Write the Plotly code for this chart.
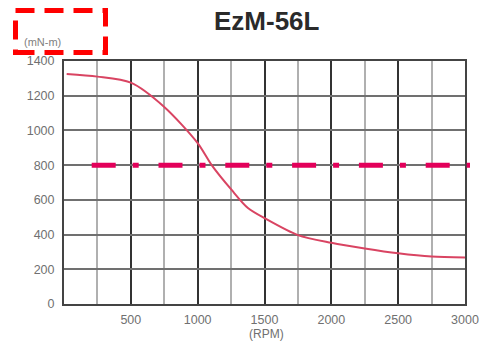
import plotly.graph_objects as go

# Data
rpm = [20, 250, 500, 750, 1000, 1105, 1254, 1376, 1511, 1750, 2000, 2250, 2500, 2750, 3000]
torque = [1325, 1310, 1275, 1135, 927, 800, 657, 553, 490, 397, 353, 320, 292, 273, 268]
threshold = 800
x_ticks = [500, 1000, 1500, 2000, 2500, 3000]
y_ticks = [0, 200, 400, 600, 800, 1000, 1200, 1400]
title_text = "EzM-56L"
y_unit = "(mN-m)"
x_unit = "(RPM)"

W, H = 483, 341
L, R, T, B = 64, 18, 61, 37
pw, ph = W - L - R, H - T - B

def px(x):
    return (x - L) / pw

def py(y):
    return (H - B - y) / ph

fig = go.Figure()

fig.add_trace(go.Scatter(
    x=rpm, y=torque, mode="lines",
    line=dict(color="#d94462", width=2, shape="spline", smoothing=0.8),
    hoverinfo="skip", showlegend=False,
))

# threshold dashed line
fig.add_shape(type="line", xref="paper", yref="y",
              x0=px(91.7), x1=px(470), y0=threshold, y1=threshold,
              line=dict(color="#e3005a", width=5, dash="24px,17px,6px,19.8px"),
              layer="above")

# red dashed box around unit label
fig.add_shape(type="rect", xref="paper", yref="paper",
              x0=px(15.5), x1=px(105.5), y0=py(52.5), y1=py(10.5),
              line=dict(color="#ff0000", width=5, dash="19px,10px"))

fig.add_annotation(text=y_unit, xref="paper", yref="paper",
                   x=px(42), y=py(42), xanchor="center", yanchor="middle",
                   showarrow=False,
                   font=dict(size=11, color="#808080", family="Liberation Sans"))

fig.add_annotation(text=title_text, xref="paper", yref="paper",
                   x=px(267), y=py(21), xanchor="center", yanchor="middle",
                   showarrow=False,
                   font=dict(size=26, color="#2a2a2a", family="Liberation Sans",
                             weight="bold"))

fig.add_annotation(text=x_unit, xref="paper", yref="paper",
                   x=px(266), y=py(334), xanchor="center", yanchor="middle",
                   showarrow=False,
                   font=dict(size=12, color="#707070", family="Liberation Sans"))

fig.update_layout(
    width=W, height=H,
    margin=dict(l=L, r=R, t=T, b=B, autoexpand=False),
    paper_bgcolor="white", plot_bgcolor="white",
    font=dict(family="Liberation Sans", color="#707070", size=12),
    showlegend=False,
)

fig.update_xaxes(
    range=[0, 3000], tickmode="array", tickvals=x_ticks,
    showgrid=True, gridcolor="#333333", gridwidth=2,
    minor=dict(tickmode="linear", tick0=0, dtick=250, showgrid=True,
               gridcolor="#b0b0b0", gridwidth=1.5),
    showline=True, linecolor="#444444", linewidth=2, mirror=True,
    zeroline=False, ticks="", ticklabelstandoff=3,
    tickfont=dict(size=12.5, color="#707070"),
)

fig.update_yaxes(
    range=[0, 1400], tickmode="array", tickvals=y_ticks,
    showgrid=True, gridcolor="#707070", gridwidth=1.5,
    showline=True, linecolor="#444444", linewidth=2, mirror=True,
    zeroline=False, ticks="", ticklabelstandoff=5,
    tickfont=dict(size=12.5, color="#707070"),
)

fig.write_html("out.html", config={"displayModeBar": False},
               post_script="document.body.style.margin='0';document.body.style.padding='0';")
